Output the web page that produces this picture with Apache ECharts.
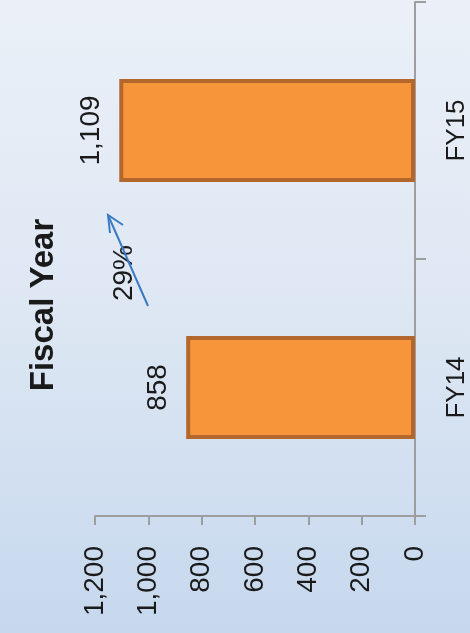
<!DOCTYPE html>
<html>
<head>
<meta charset="utf-8">
<script src="https://cdn.jsdelivr.net/npm/echarts@6/dist/echarts.min.js"></script>
<style>
  html, body { margin: 0; padding: 0; }
  #main {
    width: 470px;
    height: 633px;
    background: linear-gradient(180deg, #ebf0f8 0%, #dde7f3 50%, #c6d8ee 100%);
  }
</style>
</head>
<body>
<div id="main"></div>
<script>
// data
const categories = ['FY14', 'FY15'];
const visitors = [858, 1109];
const valueTicks = [0, 200, 400, 600, 800, 1000, 1200];
const growthLabel = '29%';
const titleText = 'Fiscal Year';

const font = '"Liberation Sans", Arial, sans-serif';

let option = {
  animation: false,
  grid: {
    left: 95,
    right: 55,
    top: 2,
    bottom: 117
  },
  xAxis: {
    type: 'value',
    inverse: true,
    min: valueTicks[0],
    max: valueTicks[valueTicks.length - 1],
    interval: 200,
    splitLine: { show: false },
    axisLine: { show: true, lineStyle: { color: '#9e9e9e', width: 2 } },
    axisTick: { show: true, length: 9, lineStyle: { color: '#9e9e9e', width: 2 } },
    axisLabel: {
      rotate: 90,
      margin: 30,
      color: '#1a1a1a',
      fontFamily: font,
      fontSize: 28,
      formatter: v => v.toLocaleString('en-US')
    }
  },
  yAxis: {
    type: 'category',
    position: 'right',
    data: categories,
    axisLine: { show: true, onZero: false, lineStyle: { color: '#9e9e9e', width: 2 } },
    axisTick: { show: true, length: 11, lineStyle: { color: '#9e9e9e', width: 2 } },
    axisLabel: {
      rotate: 90,
      margin: 29,
      color: '#1a1a1a',
      fontFamily: font,
      fontSize: 26
    }
  },
  series: [
    {
      type: 'bar',
      data: visitors,
      barCategoryGap: '60%',
      itemStyle: {
        color: '#f7953a',
        borderColor: '#b3672c',
        borderWidth: 4
      },
      label: {
        show: true,
        position: 'left',
        distance: 14,
        rotate: 90,
        align: 'center',
        verticalAlign: 'bottom',
        color: '#1a1a1a',
        fontFamily: font,
        fontSize: 28,
        formatter: p => p.value.toLocaleString('en-US')
      }
    }
  ],
  graphic: [
    {
      type: 'text',
      x: 44,
      y: 305,
      rotation: Math.PI / 2,
      style: {
        text: titleText,
        fill: '#1a1a1a',
        font: 'bold 33px ' + font,
        align: 'center',
        verticalAlign: 'middle'
      }
    },
    {
      type: 'text',
      x: 124,
      y: 273,
      rotation: Math.PI / 2,
      style: {
        text: growthLabel,
        fill: '#1a1a1a',
        font: '28px ' + font,
        align: 'center',
        verticalAlign: 'middle'
      }
    },
    {
      type: 'polyline',
      shape: { points: [[148, 306], [108, 215]] },
      style: { stroke: '#3b7bc4', lineWidth: 2, fill: null }
    },
    {
      type: 'polyline',
      shape: { points: [[110, 233], [108, 215], [123, 225]] },
      style: { stroke: '#3b7bc4', lineWidth: 2, fill: null }
    }
  ]
};

let myChart = echarts.init(document.getElementById('main'));
myChart.setOption(option);
</script>
</body>
</html>
